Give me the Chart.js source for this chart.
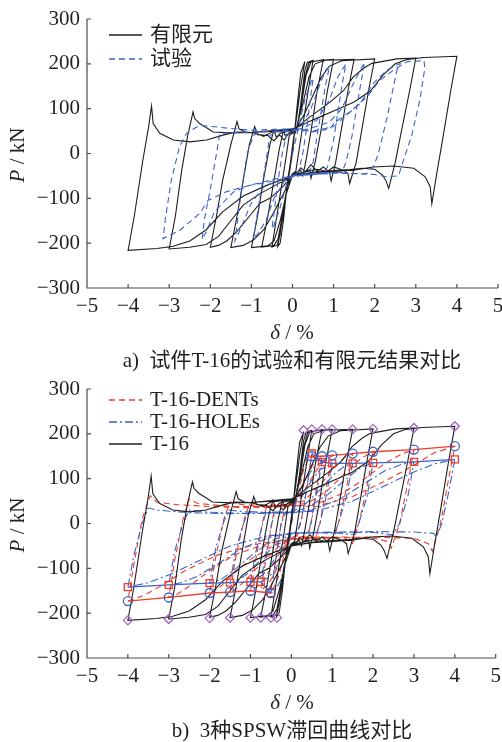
<!DOCTYPE html>
<html>
<head>
<meta charset="utf-8">
<script src="https://cdn.jsdelivr.net/npm/chart.js@4.4.1/dist/chart.umd.min.js"></script>
<style>
  body { margin: 0; background: #fff; }
  #wrap { position: relative; width: 502px; height: 742px; overflow: hidden;
          font-family: "Liberation Serif", "Noto Sans CJK SC", serif; color: #231f20; }
  canvas { position: absolute; left: 0; }
  .lbl { position: absolute; font-size: 21px; white-space: nowrap; transform: translate(-50%, -50%); }
  .ytitle { transform: translate(-50%, -50%) rotate(-90deg); }
</style>
</head>
<body>
<div id="wrap">
  <canvas id="chartA" width="502" height="370" style="top:0"></canvas>
  <canvas id="chartB" width="502" height="372" style="top:370px"></canvas>
  <div class="lbl ytitle" style="left:17px;top:155px"><i>P</i> / kN</div>
  <div class="lbl" style="left:292px;top:332px"><i>δ</i> / %</div>
  <div class="lbl" style="left:292px;top:358px">a)&nbsp; 试件T-16的试验和有限元结果对比</div>
  <div class="lbl ytitle" style="left:17px;top:525px"><i>P</i> / kN</div>
  <div class="lbl" style="left:292px;top:702px"><i>δ</i> / %</div>
  <div class="lbl" style="left:292px;top:728px">b)&nbsp; 3种SPSW滞回曲线对比</div>
</div>
<script>
// axis ticks
const xTicks = [-5, -4, -3, -2, -1, 0, 1, 2, 3, 4, 5];
const yTicks = [-300, -200, -100, 0, 100, 200, 300];

// finite element model T-16, one loop per drift level (delta %, P kN)
const feCycle1 = [[0,0],[0.1,95],[0.2,180],[0.3,205],
  [0.2,150],[0.1,80],[0.02,30],[-0.05,-20],[-0.12,-60],[-0.22,-150],[-0.3,-200],[-0.36,-208],
  [-0.25,-150],[-0.12,-70],[-0.02,-10],[0.04,40]];
const feCycle2 = [[0.12,60],[0.2,110],[0.3,185],[0.36,203],[0.5,208],
  [0.4,150],[0.28,80],[0.18,20],[0.08,-40],[0,-45],[-0.1,-60],[-0.2,-110],[-0.3,-180],[-0.37,-204],[-0.5,-209],
  [-0.4,-150],[-0.28,-80],[-0.16,-10],[-0.08,40],[0,45]];
const feCycle3 = [[0.1,55],[0.2,100],[0.3,170],[0.4,203],[0.75,209],
  [0.6,140],[0.45,50],[0.33,-15],[0.25,-50],[0.2,-38],[0.1,-42],[0,-46],[-0.12,-70],[-0.25,-140],[-0.35,-190],[-0.45,-205],[-0.75,-209],
  [-0.6,-140],[-0.45,-60],[-0.32,10],[-0.22,52],[-0.18,40],[-0.1,44],[0,48]];
const feCycle4 = [[0.1,56],[0.22,110],[0.33,175],[0.45,204],[0.7,208],[1.0,210],
  [0.85,140],[0.7,55],[0.55,-20],[0.45,-55],[0.42,-36],[0.3,-40],[0.2,-32],[0.12,-44],[0,-48],
  [-0.15,-90],[-0.3,-150],[-0.45,-195],[-0.6,-206],[-1.0,-210],
  [-0.85,-140],[-0.7,-55],[-0.55,20],[-0.45,52],[-0.4,38],[-0.3,40],[-0.2,30],[-0.1,45],[0,50]];
const feCycle5 = [[0.1,58],[0.25,110],[0.4,170],[0.55,200],[0.8,208],[1.5,210],
  [1.35,140],[1.2,60],[1.05,-20],[0.94,-61],[0.9,-42],[0.75,-30],[0.6,-40],[0.45,-25],[0.3,-42],[0.1,-45],[0,-50],
  [-0.25,-95],[-0.47,-134],[-0.7,-170],[-0.95,-193],[-1.2,-205],[-1.5,-210],
  [-1.35,-140],[-1.2,-60],[-1.05,20],[-0.92,60],[-0.85,42],[-0.6,40],[-0.45,28],[-0.3,45],[0,52]];
const feCycle6 = [[0.1,58],[0.3,90],[0.5,130],[0.7,170],[0.9,195],[1.2,207],[2.0,211],
  [1.85,140],[1.7,60],[1.55,-20],[1.39,-67],[1.35,-45],[1.2,-36],[1.0,-30],[0.85,-40],[0.6,-35],[0.3,-42],[0,-50],
  [-0.3,-80],[-0.55,-100],[-0.79,-111],[-1.05,-140],[-1.36,-175],[-1.6,-195],[-1.8,-205],[-2.0,-209],
  [-1.85,-140],[-1.7,-60],[-1.5,20],[-1.35,71],[-1.3,55],[-1.15,48],[-0.9,45],[-0.7,38],[-0.5,48],[0,53]];
const feCycle7 = [[0.1,58],[0.4,80],[0.7,100],[0.92,115],[1.24,140],[1.48,171],[1.73,190],[1.93,201],[2.54,211],[3.0,213],
  [2.85,140],[2.65,50],[2.5,-20],[2.34,-78],[2.27,-60],[2.19,-48],[2.0,-35],[1.7,-33],[1.4,-36],[1.0,-38],[0.5,-42],[0,-50],
  [-0.4,-70],[-0.8,-90],[-1.2,-115],[-1.5,-150],[-1.8,-185],[-2.1,-203],[-2.5,-209],[-3.0,-213],
  [-2.85,-140],[-2.7,-40],[-2.55,40],[-2.42,93],[-2.38,78],[-2.26,67],[-2.1,58],[-1.93,48],[-1.5,46],[-1.0,47],[0,55]];
const feCycle8 = [[0.1,58],[0.5,75],[1.0,95],[1.5,115],[1.9,140],[2.2,175],[2.5,200],[2.8,210],[3.2,214],[4.0,217],
  [3.85,140],[3.65,30],[3.5,-50],[3.39,-112],[3.35,-74],[3.23,-52],[2.95,-33],[2.46,-28],[1.97,-30],[1.48,-37],[1.0,-40],[0.5,-43],[0,-50],
  [-0.6,-70],[-1.2,-95],[-1.7,-130],[-2.1,-170],[-2.5,-195],[-2.9,-207],[-3.3,-212],[-4.0,-216],
  [-3.85,-140],[-3.65,-20],[-3.5,60],[-3.43,106],[-3.39,67],[-3.23,45],[-2.9,30],[-2.5,26],[-2.09,30],[-1.69,41],[-1.36,48],[-1.0,47],[-0.5,50],[0,55]];

// test T-16
const testCycle1 = [[0,0],[0.15,60],[0.3,120],[0.45,160],[0.5,168],
  [0.35,60],[0.25,0],[0.15,-40],[0,-48],
  [-0.15,-70],[-0.3,-120],[-0.45,-160],[-0.5,-168],
  [-0.35,-60],[-0.25,0],[-0.15,40],[0,48]];
const testCycle2 = [[0.2,60],[0.45,100],[0.65,150],[0.8,185],[0.9,195],
  [0.8,150],[0.6,40],[0.5,-20],[0.4,-45],[0.1,-48],[0,-52],
  [-0.2,-62],[-0.45,-100],[-0.65,-150],[-0.85,-180],[-0.95,-190],
  [-0.85,-130],[-0.65,-20],[-0.55,40],[-0.4,48],[0,50]];
const testCycle3 = [[0.3,58],[0.6,75],[0.9,120],[1.1,170],[1.3,200],
  [1.2,150],[1.0,30],[0.85,-30],[0.75,-45],[0.3,-48],[0,-52],
  [-0.3,-58],[-0.7,-75],[-1.0,-110],[-1.25,-165],[-1.4,-195],
  [-1.3,-120],[-1.1,0],[-0.95,40],[-0.8,48],[0,50]];
const testCycle4 = [[0.4,55],[0.9,70],[1.2,100],[1.5,160],[1.75,203],
  [1.65,150],[1.45,40],[1.3,-20],[1.2,-42],[0.5,-45],[0,-50],
  [-0.22,-56],[-0.71,-66],[-1.04,-71],[-1.44,-86],[-1.9,-130],[-2.1,-175],[-2.2,-192],
  [-2.15,-150],[-2.0,-80],[-1.85,0],[-1.77,45],[-1.0,48],[0,52]];
const testCycle5 = [[0.5,50],[1.0,60],[1.65,112],[1.97,157],[2.3,186],[2.62,201],
  [2.54,186],[2.3,80],[2.09,0],[1.97,-30],[1.8,-45],[1.0,-44],[0,-50],
  [-0.5,-58],[-1.2,-75],[-1.6,-85],[-2.05,-104],[-2.26,-134],[-2.74,-171],[-3.15,-190],
  [-3.1,-150],[-2.95,-60],[-2.75,15],[-2.58,45],[-2.26,63],[-1.52,56],[-1.0,52],[0,55]];
const testCycle6 = [[0.5,48],[0.9,55],[1.04,70],[1.4,93],[1.81,126],[2.13,164],[2.46,186],[2.79,205],[3.2,207],
  [3.22,190],[3.1,120],[2.9,40],[2.7,-15],[2.58,-50],[2.3,-52],[2.0,-47],[1.5,-45],[1.0,-42],[0.5,-44],[0,-48]];

// T-16-DENTs
const dentCycle1 = [[0,0],[0.15,60],[0.3,120],[0.42,145],[0.5,152],
  [0.38,80],[0.25,10],[0.15,-25],[0,-30],
  [-0.15,-60],[-0.3,-115],[-0.42,-142],[-0.5,-150],
  [-0.38,-80],[-0.25,0],[-0.15,35],[0,40]];
const dentCycle2 = [[0.15,50],[0.35,100],[0.55,135],[0.75,150],
  [0.6,70],[0.48,0],[0.4,-30],[0.1,-28],[0,-32],
  [-0.2,-65],[-0.4,-110],[-0.6,-140],[-0.75,-148],
  [-0.6,-70],[-0.48,0],[-0.4,38],[0,42]];
const dentCycle3 = [[0.2,55],[0.45,95],[0.7,130],[1.0,152],
  [0.85,80],[0.7,0],[0.6,-32],[0.2,-30],[0,-33],
  [-0.25,-60],[-0.5,-100],[-0.75,-135],[-1.0,-150],
  [-0.85,-70],[-0.7,5],[-0.6,40],[0,43]];
const dentCycle4 = [[0.3,50],[0.7,85],[1.05,125],[1.3,148],[1.5,156],
  [1.35,80],[1.15,0],[1.02,-40],[0.8,-30],[0.3,-32],[0,-35],
  [-0.35,-55],[-0.75,-90],[-1.1,-125],[-1.35,-146],[-1.5,-153],
  [-1.35,-70],[-1.15,10],[-1.02,45],[-0.6,40],[0,42]];
const dentCycle5 = [[0.4,45],[0.9,75],[1.35,115],[1.7,145],[2.0,160],
  [1.85,80],[1.65,0],[1.5,-45],[1.3,-32],[0.6,-30],[0,-35],
  [-0.45,-50],[-1.0,-80],[-1.45,-115],[-1.75,-142],[-2.0,-155],
  [-1.85,-75],[-1.65,10],[-1.5,48],[-1.2,42],[-0.5,38],[0,40]];
const dentCycle6 = [[0.5,40],[1.2,65],[1.8,100],[2.3,135],[2.7,155],[3.0,165],
  [2.85,90],[2.65,0],[2.45,-55],[2.35,-40],[2.0,-32],[1.2,-30],[0,-35],
  [-0.6,-45],[-1.4,-70],[-2.0,-105],[-2.5,-140],[-2.8,-158],[-3.0,-165],
  [-2.85,-80],[-2.65,10],[-2.5,55],[-2.3,45],[-1.5,38],[-0.5,38],[0,40]];
const dentCycle7 = [[0.6,38],[1.5,60],[2.3,95],[3.0,130],[3.5,158],[4.0,172],
  [3.85,100],[3.65,0],[3.45,-62],[3.35,-45],[3.0,-33],[2.0,-30],[1.0,-32],[0,-35],
  [-0.8,-45],[-1.8,-70],[-2.6,-105],[-3.2,-140],[-3.6,-160],[-4.0,-173],
  [-3.85,-90],[-3.65,10],[-3.45,62],[-3.3,48],[-2.8,42],[-2.0,38],[-1.0,35],[0,38]];

// T-16-HOLEs
const holeCycle1 = [[0,0],[0.12,70],[0.25,125],[0.4,150],[0.5,156],
  [0.38,80],[0.25,10],[0.15,-18],[0,-20],
  [-0.12,-70],[-0.25,-125],[-0.4,-150],[-0.5,-155],
  [-0.38,-80],[-0.25,0],[-0.15,22],[0,25]];
const holeCycle2 = [[0.15,60],[0.35,100],[0.55,125],[0.75,137],
  [0.6,60],[0.48,0],[0.4,-20],[0,-22],
  [-0.15,-55],[-0.35,-95],[-0.55,-120],[-0.75,-130],
  [-0.6,-55],[-0.48,0],[-0.4,25],[0,27]];
const holeCycle3 = [[0.2,50],[0.45,90],[0.7,120],[1.0,134],
  [0.85,60],[0.7,0],[0.62,-20],[0,-22],
  [-0.2,-45],[-0.45,-85],[-0.7,-115],[-1.0,-130],
  [-0.85,-55],[-0.7,0],[-0.62,25],[0,26]];
const holeCycle4 = [[0.3,40],[0.7,75],[1.05,110],[1.3,128],[1.5,134],
  [1.35,60],[1.15,0],[1.05,-22],[0.5,-20],[0,-22],
  [-0.3,-40],[-0.7,-75],[-1.05,-110],[-1.3,-127],[-1.5,-133],
  [-1.35,-55],[-1.15,5],[-1.05,27],[-0.5,24],[0,25]];
const holeCycle5 = [[0.4,35],[0.9,65],[1.35,100],[1.7,125],[2.0,135],
  [1.85,60],[1.65,0],[1.52,-25],[1.0,-20],[0,-22],
  [-0.4,-35],[-0.9,-65],[-1.35,-100],[-1.7,-124],[-2.0,-133],
  [-1.85,-55],[-1.65,5],[-1.52,30],[-1.0,25],[0,24]];
const holeCycle6 = [[0.5,30],[1.2,55],[1.8,90],[2.3,118],[2.7,132],[3.0,137],
  [2.85,60],[2.65,0],[2.48,-25],[2.0,-20],[1.0,-19],[0,-22],
  [-0.5,-30],[-1.2,-55],[-1.8,-90],[-2.3,-118],[-2.7,-132],[-3.0,-137],
  [-2.85,-60],[-2.65,0],[-2.5,30],[-2.0,25],[-1.0,22],[0,24]];
const holeCycle7 = [[0.6,28],[1.5,50],[2.3,85],[3.0,115],[3.5,133],[4.0,143],
  [3.85,70],[3.68,0],[3.55,-30],[3.48,-22],[3.0,-19],[2.0,-18],[1.0,-20],[0,-22],
  [-0.6,-28],[-1.5,-50],[-2.3,-85],[-3.0,-115],[-3.5,-132],[-4.0,-142],
  [-3.85,-70],[-3.65,0],[-3.5,35],[-3.3,30],[-2.5,24],[-1.5,22],[0,24]];

// skeleton curves and peak markers
const dentSkeletonPos = [[0.5,150],[0.75,150],[1,152],[1.5,156],[2,160],[3,165],[4,172.5]];
const dentSkeletonNeg = [[-0.5,-155],[-1,-150],[-1.5,-153],[-2,-155],[-3,-165],[-4,-173]];
const holeSkeletonPos = [[0.5,156],[0.75,137],[1,134],[1.5,134],[2,135],[3,137.5],[4,143]];
const holeSkeletonNeg = [[-0.5,-155],[-0.75,-130],[-1,-130],[-1.5,-132],[-2,-133],[-3,-137],[-4,-142]];
const t16Peaks = [[0.3,208],[0.5,210],[0.75,210],[1,210],[1.5,210],[2,211],[3,213],[4,217],
  [-0.35,-210],[-0.5,-210],[-0.75,-210],[-1,-210],[-1.5,-210],[-2,-211],[-3,-213],[-4,-216]];

const feLoop = [].concat(feCycle1, feCycle2, feCycle3, feCycle4, feCycle5, feCycle6, feCycle7, feCycle8);
const testLoop = [].concat(testCycle1, testCycle2, testCycle3, testCycle4, testCycle5, testCycle6);
const dentLoop = [].concat(dentCycle1, dentCycle2, dentCycle3, dentCycle4, dentCycle5, dentCycle6, dentCycle7);
const holeLoop = [].concat(holeCycle1, holeCycle2, holeCycle3, holeCycle4, holeCycle5, holeCycle6, holeCycle7);

const BLACK = '#1e1e1e', BLUE = '#3b62c6', RED = '#ee3b2b', PURPLE = '#a364c4';
const FONT = '"Liberation Serif", "Noto Sans CJK SC", serif';

const toXY = pts => pts.map(([x, y]) => ({ x, y }));
const minus = v => (v < 0 ? '\u2212' + Math.abs(v) : String(v));

function line(label, pts, color, dash, order, inLegend) {
    return {
        label, data: toXY(pts), showLine: true, borderColor: color, borderWidth: 1.1,
        borderDash: dash, pointRadius: 0, tension: 0, order, inLegend
    };
}

// open axes with inward tick marks, plus an in-plot legend
const frame = {
    id: 'frame',
    beforeDatasetsDraw(chart) {
        const { ctx, chartArea: a, scales: { x, y } } = chart;
        ctx.save();
        ctx.strokeStyle = '#4a4a4a';
        ctx.lineWidth = 1.2;
        ctx.beginPath();
        ctx.moveTo(a.left, a.top);
        ctx.lineTo(a.left, a.bottom);
        ctx.lineTo(a.right, a.bottom);
        xTicks.forEach(v => {
            const px = x.getPixelForValue(v);
            ctx.moveTo(px, a.bottom);
            ctx.lineTo(px, a.bottom - 4);
        });
        yTicks.forEach(v => {
            const py = y.getPixelForValue(v);
            ctx.moveTo(a.left, py);
            ctx.lineTo(a.left + 4, py);
        });
        ctx.stroke();
        ctx.restore();
    },
    afterDraw(chart, args, opts) {
        const ctx = chart.ctx;
        ctx.save();
        ctx.font = '21px ' + FONT;
        ctx.textBaseline = 'middle';
        let yy = opts.top;
        chart.data.datasets.filter(d => d.inLegend).forEach(d => {
            ctx.strokeStyle = d.borderColor;
            ctx.lineWidth = 1.3;
            ctx.setLineDash(d.borderDash || []);
            ctx.beginPath();
            ctx.moveTo(109, yy);
            ctx.lineTo(142, yy);
            ctx.stroke();
            ctx.setLineDash([]);
            ctx.fillStyle = '#231f20';
            ctx.fillText(d.label, 150, yy);
            yy += opts.step;
        });
        ctx.restore();
    }
};

function makeOptions(xHeight, legendTop, legendStep) {
    const tickFont = { family: FONT, size: 21 };
    return {
        responsive: false,
        animation: false,
        devicePixelRatio: 1,
        layout: { padding: { top: 19, right: 4, left: 0, bottom: 0 } },
        plugins: {
            legend: { display: false },
            tooltip: { enabled: false },
            frame: { top: legendTop, step: legendStep }
        },
        scales: {
            x: {
                type: 'linear', min: -5, max: 5,
                grid: { display: false, drawTicks: false },
                border: { display: false },
                afterBuildTicks: s => { s.ticks = xTicks.map(v => ({ value: v })); },
                afterFit: s => { s.height = xHeight; s.paddingLeft = 0; s.paddingRight = 0; },
                ticks: { color: '#231f20', font: tickFont, padding: 6, autoSkip: false, maxRotation: 0, callback: minus }
            },
            y: {
                type: 'linear', min: -300, max: 300,
                grid: { display: false, drawTicks: false },
                border: { display: false },
                afterBuildTicks: s => { s.ticks = yTicks.map(v => ({ value: v })); },
                afterFit: s => { s.width = 87; s.paddingTop = 0; s.paddingBottom = 0; },
                ticks: { color: '#231f20', font: tickFont, padding: 7, autoSkip: false, callback: minus }
            }
        }
    };
}

new Chart(document.getElementById('chartA'), {
    type: 'scatter',
    data: {
        datasets: [
            line('有限元', feLoop, BLACK, [], 1, true),
            line('试验', testLoop, BLUE, [6, 4], 0, true)
        ]
    },
    options: makeOptions(82, 35, 24),
    plugins: [frame]
});

function skeleton(pts, color, markColor, style, radius) {
    return {
        data: toXY(pts), showLine: true, borderColor: color, borderWidth: 1.3, tension: 0,
        pointStyle: style, pointRadius: radius, pointBorderColor: markColor, pointBorderWidth: 1.3,
        pointBackgroundColor: 'rgba(0,0,0,0)', order: 1
    };
}

new Chart(document.getElementById('chartB'), {
    type: 'scatter',
    data: {
        datasets: [
            line('T-16-DENTs', dentLoop, RED, [6, 4], 5, true),
            line('T-16-HOLEs', holeLoop, BLUE, [8, 3, 2, 3], 4, true),
            line('T-16', feLoop, BLACK, [], 3, true),
            skeleton(dentSkeletonPos, RED, BLUE, 'circle', 4.5),
            skeleton(dentSkeletonNeg, RED, BLUE, 'circle', 4.5),
            skeleton(holeSkeletonPos, BLUE, RED, 'rect', 5),
            skeleton(holeSkeletonNeg, BLUE, RED, 'rect', 5),
            {
                data: toXY(t16Peaks), showLine: false, pointStyle: 'rectRot', pointRadius: 4.5,
                pointBorderColor: PURPLE, pointBorderWidth: 1.3, pointBackgroundColor: 'rgba(0,0,0,0)', order: 0
            }
        ]
    },
    options: makeOptions(84, 30, 22),
    plugins: [frame]
});
</script>
</body>
</html>
